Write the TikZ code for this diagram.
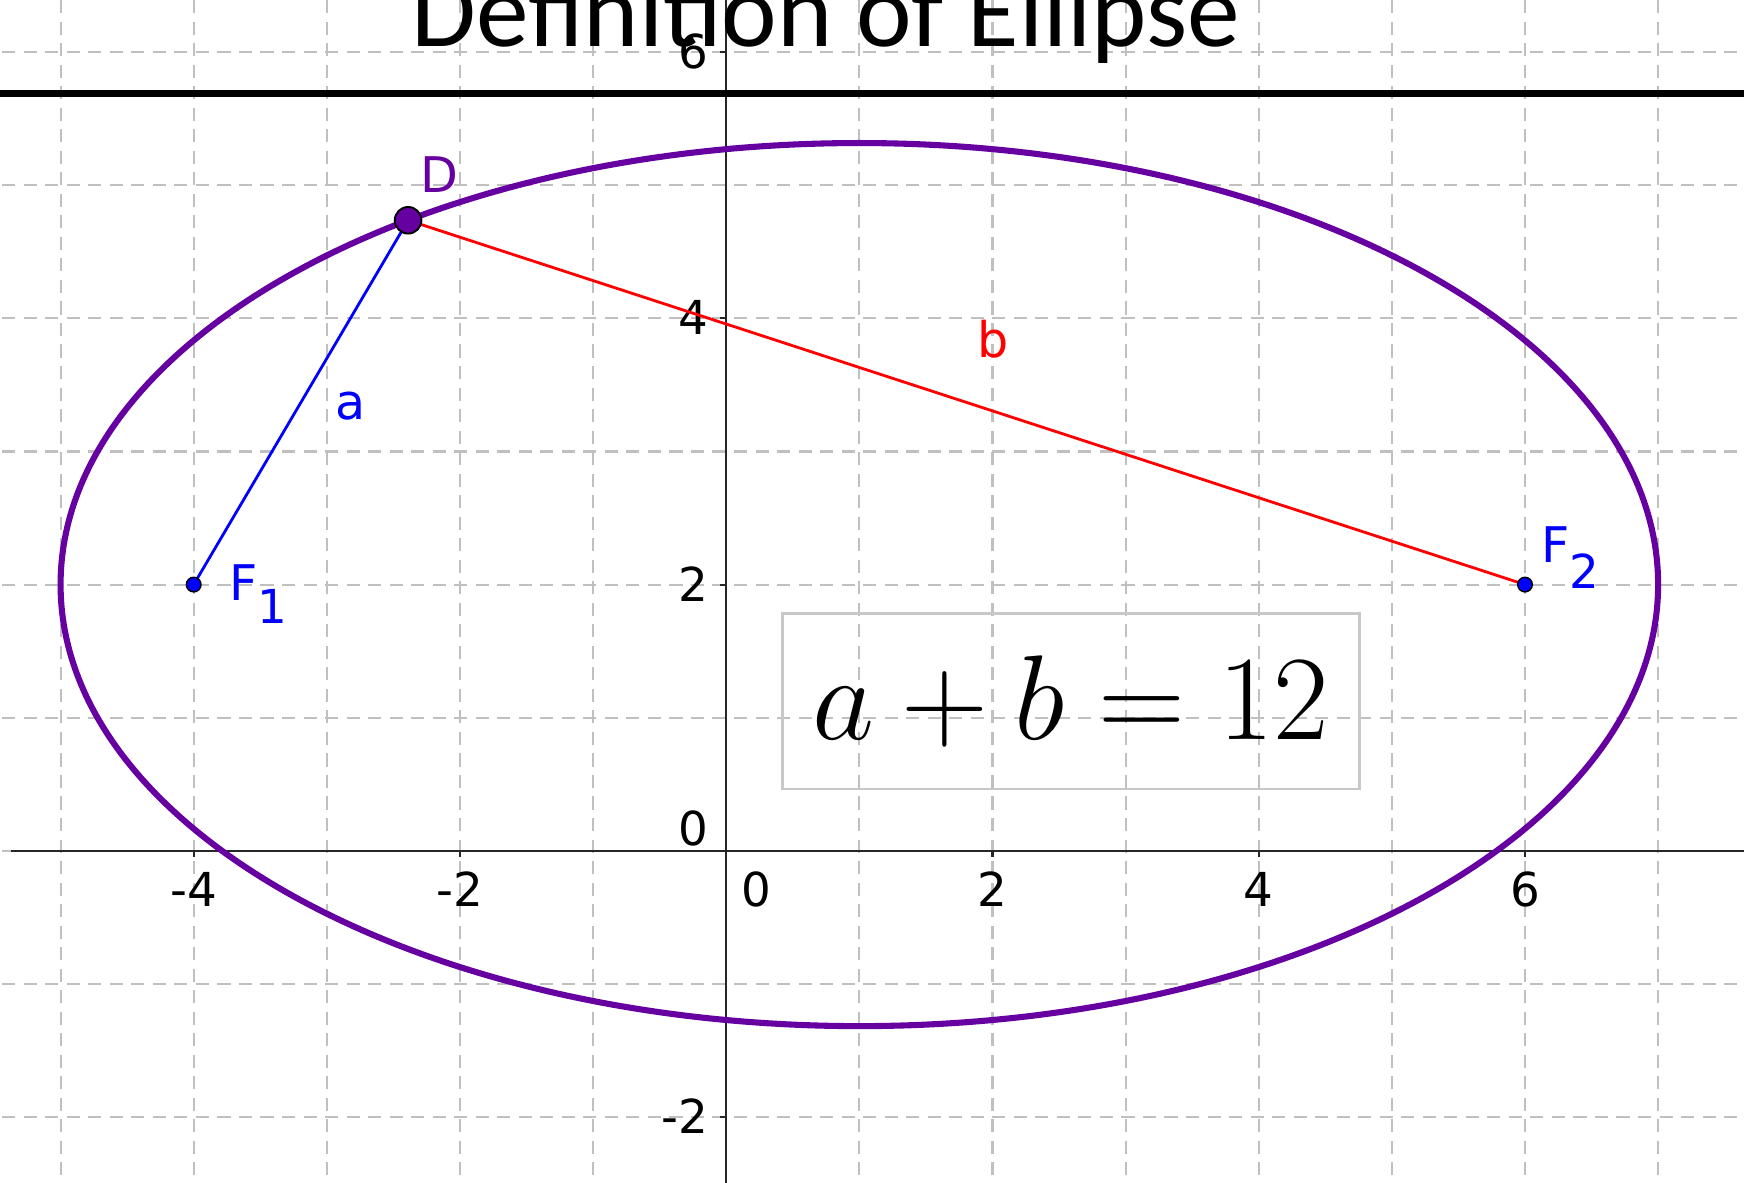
\documentclass[tikz,border=0pt]{standalone}
\usepackage{fontspec}
\setsansfont{DejaVu Sans}
\newfontfamily\titlefont{Carlito}
\usepackage{xcolor}
\usepackage{tikz}

\definecolor{ellpurple}{RGB}{102,0,160}
\definecolor{gridgray}{RGB}{192,192,192}
\definecolor{boxgray}{RGB}{200,200,200}

\begin{document}
\begin{tikzpicture}[font=\sffamily\fontsize{10.5}{12}\selectfont,
  gridline/.style={gridgray, line width=0.45pt, dash pattern=on 2.8pt off 1.8pt},
  axisline/.style={black!85, line width=0.45pt},
  ticklbl/.style={font=\sffamily\fontsize{10}{11}\selectfont, inner sep=0pt},
  focpt/.style={circle, fill=blue, draw=black, line width=0.3pt, inner sep=0pt, minimum size=1.1mm}]

\useasboundingbox (-5.455,-2.489) rectangle (7.645,6.391);
\clip (-5.455,-2.489) rectangle (7.645,6.391);

% grid
\foreach \x in {-5,...,7}
  \draw[gridline] (\x,-2.6) -- (\x,6.5);
\foreach \y in {-2,...,6}
  \draw[gridline] (-5.6,\y) -- (7.8,\y);

% axes
\draw[axisline] (-5.37,0) -- (7.8,0);
\draw[axisline] (0,-2.6) -- (0,6.5);
\foreach \x/\t in {-4/-4,-2/-2,2/2,4/4,6/6} {
  \draw[axisline] (\x,0) -- (\x,-0.05);
  \node[ticklbl, anchor=base] at (\x,-0.418) {\t};
}
\foreach \y/\t in {-2/-2,2/2,4/4,6/6} {
  \draw[axisline] (0,\y) -- (-0.05,\y);
  \node[ticklbl, anchor=base east] at (-0.13,\y-0.125) {\t};
}
\node[ticklbl, anchor=base] at (0.225,-0.418) {0};
\node[ticklbl, anchor=base east] at (-0.13,0.04) {0};

% title
\draw[line width=1.5pt] (-5.6,5.687) -- (7.8,5.687);
\node[anchor=base, inner sep=0pt] (title) at (0.75,6.04) {\titlefont\fontsize{22.5}{27}\selectfont Definition of Ellipse};

% ellipse, foci and point D
\draw[ellpurple, line width=1.3pt] (1,2) ellipse [x radius=6, y radius=3.3166];
\coordinate (F1) at (-4,2);
\coordinate (F2) at (6,2);
\coordinate (D) at ({1+6*cos(124.4)},{2+3.3166*sin(124.4)});
\draw[blue, line width=0.6pt] (F1) -- (D);
\draw[red, line width=0.6pt] (D) -- (F2);
\node[focpt] (f1pt) at (F1) {};
\node[focpt] (f2pt) at (F2) {};
\node[circle, fill=ellpurple, draw=black, line width=0.4pt, inner sep=0pt, minimum size=2mm] (dpt) at (D) {};

% labels
\node[ellpurple] (dlbl) at (-2.155,5.08) {D};
\node[blue] (albl) at (-2.82,3.34) {a};
\node[red] (blbl) at (2.005,3.84) {b};
\node[blue, anchor=base west, inner sep=0pt] (f1lbl) at (-3.74,1.88) {F\raisebox{-5pt}{\fontsize{10}{11}\selectfont 1}};
\node[blue, anchor=base west, inner sep=0pt] (f2lbl) at (6.116,2.164) {F\raisebox{-5.5pt}{\fontsize{10}{11}\selectfont 2}};

% sum box
\node[draw=boxgray, line width=0.5pt, minimum width=4.335cm, minimum height=1.316cm, inner sep=0pt] (sumbox) at (2.59,1.125) {\scalebox{1.036}{\fontsize{24.88}{29}\selectfont $a+b=12$}};

\end{tikzpicture}
\end{document}
